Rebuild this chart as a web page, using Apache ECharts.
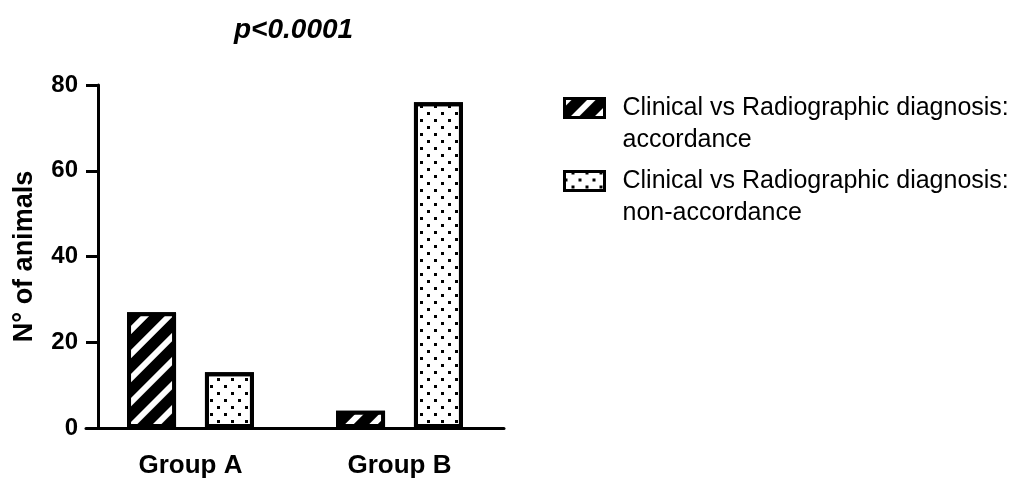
<!DOCTYPE html>
<html>
<head>
<meta charset="utf-8">
<script src="https://cdn.jsdelivr.net/npm/echarts@6/dist/echarts.min.js"></script>
<style>
	html, body { margin: 0; padding: 0; background: #fff; }
	#main { width: 1016px; height: 479px; }
</style>
</head>
<body>
<div id="main"></div>
<script>
	var categories = ['Group A', 'Group B'];
	var seriesNames = [
		'Clinical vs Radiographic diagnosis:\naccordance',
		'Clinical vs Radiographic diagnosis:\nnon-accordance'
	];
	var accordance = [27, 4];
	var nonAccordance = [13, 76];
	var yTicks = [0, 20, 40, 60, 80];

	var font = '"Liberation Sans", Arial, Helvetica, sans-serif';

	// hatched: black fill, white "/" stripes
	var stripeDecal = {
		symbol: 'rect',
		color: '#fff',
		backgroundColor: null,
		dashArrayX: [1, 0],
		dashArrayY: [6, 11],
		rotation: -Math.PI / 4,
		symbolSize: 1
	};
	// dotted: white fill, small black squares, staggered rows
	var dotDecal = {
		symbol: 'rect',
		color: '#000',
		backgroundColor: null,
		dashArrayX: [[3, 11], [0, 7, 3, 4]],
		dashArrayY: [3, 4],
		rotation: 0,
		symbolSize: 1
	};

	var myChart = echarts.init(document.getElementById('main'));

	function legendBlock(name, top) {
		return {
			data: [name],
			orient: 'vertical',
			left: 563,
			top: top,
			padding: 0,
			icon: 'rect',
			itemWidth: 40,
			itemHeight: 19,
			itemGap: 0,
			selectedMode: false,
			// blank first line so the first text line sits level with the icon
			formatter: function (n) {
				return '\n' + n;
			},
			itemStyle: {
				borderColor: '#000',
				borderWidth: 3
			},
			textStyle: {
				fontFamily: font,
				fontSize: 25,
				color: '#000',
				lineHeight: 32,
				padding: [0, 0, 0, 13]
			}
		};
	}

	var option = {
		backgroundColor: '#fff',
		animation: false,
		title: {
			text: 'p<0.0001',
			left: 229,
			top: 11,
			textStyle: {
				fontFamily: font,
				fontSize: 28,
				fontWeight: 'bold',
				fontStyle: 'italic',
				color: '#000'
			}
		},
		legend: [
			legendBlock(seriesNames[0], 60),
			legendBlock(seriesNames[1], 133)
		],
		grid: {
			left: 86,
			top: 85,
			width: 418,
			bottom: 51,
			containLabel: false
		},
		xAxis: {
			type: 'category',
			data: categories,
			axisLine: {
				lineStyle: { color: '#000', width: 3 }
			},
			axisTick: {
				alignWithLabel: true,
				length: 11,
				lineStyle: { color: '#000', width: 3 }
			},
			axisLabel: {
				margin: 25,
				fontFamily: font,
				fontSize: 26,
				fontWeight: 'bold',
				color: '#000'
			}
		},
		yAxis: {
			type: 'value',
			min: yTicks[0],
			max: yTicks[yTicks.length - 1],
			interval: yTicks[1] - yTicks[0],
			offset: -12,
			name: 'N° of animals',
			nameLocation: 'middle',
			nameGap: 60,
			nameTextStyle: {
				fontFamily: font,
				fontSize: 27,
				fontWeight: 'bold',
				color: '#000'
			},
			splitLine: { show: false },
			axisLine: {
				show: true,
				lineStyle: { color: '#000', width: 3 }
			},
			axisTick: {
				show: true,
				length: 12,
				lineStyle: { color: '#000', width: 3 }
			},
			axisLabel: {
				margin: 20,
				fontFamily: font,
				fontSize: 24,
				fontWeight: 'bold',
				color: '#000'
			}
		},
		series: [{
				name: seriesNames[0],
				type: 'bar',
				data: accordance,
				barWidth: 49,
				barGap: '59%',
				itemStyle: {
					color: '#000',
					borderColor: '#000',
					borderWidth: 4,
					decal: stripeDecal
				}
			},
			{
				name: seriesNames[1],
				type: 'bar',
				data: nonAccordance,
				barWidth: 49,
				barGap: '59%',
				itemStyle: {
					color: '#fff',
					borderColor: '#000',
					borderWidth: 4,
					decal: dotDecal
				}
			}
		]
	};

	option && myChart.setOption(option);
</script>
</body>
</html>
